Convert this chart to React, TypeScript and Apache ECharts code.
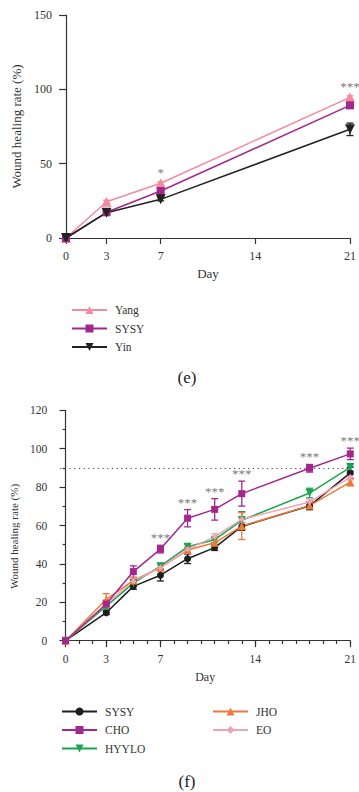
import React, { useEffect, useRef } from 'react';
import * as echarts from 'echarts';

const FONT = '"Liberation Serif", "Times New Roman", serif';
const TEXT = '#333333';
const AXIS = '#333333';

// ---------- Panel (e) ----------
const eDays = [0, 3, 7, 21];
const eTicks = [0, 3, 7, 14, 21];
const yangValues = [0, 24.4, 36.8, 94.6];
const yangErr = [0, 1, 1, 1];
const sysyEValues = [0, 17.3, 31.6, 89.2];
const sysyEErr = [0, 1, 1, 1.5];
const yinValues = [0, 17, 26, 73.1];
const yinErr = [0, 1, 1, 4.2];
const eSig = ['', '', '*', '***'];

// ---------- Panel (f) ----------
const fDays = [0, 3, 5, 7, 9, 11, 13, 18, 21];
const fMajorTicks = [0, 3, 7, 14, 21];
const fMinorTicks = [0, 1, 2, 3, 4, 5, 6, 7, 8, 9, 10, 11, 12, 13, 14, 15, 16, 17, 18, 19, 20, 21];
const sysyFValues = [0, 14.6, 28.3, 34.1, 42.7, 48.5, 59.5, 70.2, 87.4];
const sysyFErr = [0, 1, 1.5, 3, 2.5, 1.5, 2, 2, 3];
const choValues = [0, 19.1, 36, 47.7, 63.8, 68.4, 76.6, 89.8, 97.3];
const choErr = [0, 2, 3, 2, 4.5, 5.6, 6.5, 2, 3];
const hyyloValues = [0, 18, 30, 38.8, 48.9, 52.6, 62.7, 76.9, 90.3];
const hyyloErr = [0, 1.5, 1.5, 1.5, 1.5, 1.5, 4.5, 2.5, 2];
const jhoValues = [0, 21.5, 31.4, 38, 47.2, 51, 59.7, 70.4, 82.6];
const jhoErr = [0, 3, 1.5, 1.5, 1.5, 1.5, 7, 1.5, 2];
const eoValues = [0, 19, 31, 38, 47.6, 54.2, 63.2, 72.2, 85.2];
const eoErr = [0, 1.5, 1.5, 1.5, 1.5, 1.5, 1.5, 1.5, 1.5];
const fSig = ['', '', '', '***', '***', '***', '***', '***', '***'];
const referenceLine = 90;

type Group = { name: string; values: number[]; errs: number[]; color: string; symbol: string; size: number };

const INV_TRIANGLE = 'path://M0,0 L10,0 L5,9 Z';

const eGroups: Group[] = [
  { name: 'Yang', values: yangValues, errs: yangErr, color: '#f48aa1', symbol: 'triangle', size: 10 },
  { name: 'SYSY', values: sysyEValues, errs: sysyEErr, color: '#a3288d', symbol: 'rect', size: 8 },
  { name: 'Yin', values: yinValues, errs: yinErr, color: '#222222', symbol: INV_TRIANGLE, size: 10 },
];

const fGroups: Group[] = [
  { name: 'SYSY', values: sysyFValues, errs: sysyFErr, color: '#1e1e1e', symbol: 'circle', size: 7 },
  { name: 'CHO', values: choValues, errs: choErr, color: '#a3288d', symbol: 'rect', size: 7 },
  { name: 'HYYLO', values: hyyloValues, errs: hyyloErr, color: '#1ba552', symbol: INV_TRIANGLE, size: 8 },
  { name: 'JHO', values: jhoValues, errs: jhoErr, color: '#ec7a3a', symbol: 'triangle', size: 8 },
  { name: 'EO', values: eoValues, errs: eoErr, color: '#f3a1b4', symbol: 'diamond', size: 6 },
];

function lineSeries(g: Group, days: number[], extra: any = {}) {
  return {
    type: 'line',
    name: g.name,
    data: days.map((d, i) => [d, g.values[i]]),
    symbol: g.symbol,
    symbolSize: g.size,
    showSymbol: true,
    lineStyle: { color: g.color, width: 1.5 },
    itemStyle: { color: g.color, opacity: 1 },
    z: 3,
    ...extra,
  };
}

function errSeries(g: Group, days: number[]) {
  return {
    type: 'custom',
    name: g.name + ' error',
    silent: true,
    z: 2,
    encode: { x: 0, y: 1 },
    data: days.map((d, i) => [d, g.values[i], g.errs[i]]),
    renderItem: (_p: any, api: any) => {
      const x = api.value(0);
      const y = api.value(1);
      const e = api.value(2);
      const top = api.coord([x, y + e]);
      const bot = api.coord([x, y - e]);
      const style = { stroke: g.color, lineWidth: 1.3 };
      const cap = 3.5;
      return {
        type: 'group',
        children: [
          { type: 'line', shape: { x1: top[0], y1: top[1], x2: bot[0], y2: bot[1] }, style },
          { type: 'line', shape: { x1: top[0] - cap, y1: top[1], x2: top[0] + cap, y2: top[1] }, style },
          { type: 'line', shape: { x1: bot[0] - cap, y1: bot[1], x2: bot[0] + cap, y2: bot[1] }, style },
        ],
      };
    },
  };
}

function sigSeries(groups: Group[], days: number[], sig: string[], fontSize: number, distance: number) {
  const items: any[] = [];
  days.forEach((d, i) => {
    if (sig[i]) {
      items.push({ name: sig[i], value: [d, Math.max(...groups.map((g) => g.values[i] + g.errs[i]))] });
    }
  });
  return {
    type: 'scatter',
    name: 'sig',
    silent: true,
    symbolSize: 0,
    z: 5,
    itemStyle: { color: '#555555' },
    data: items,
    label: {
      show: true,
      position: 'top',
      distance,
      formatter: '{b}',
      color: '#555555',
      fontSize,
      fontFamily: FONT,
    },
  };
}

const axisLineStyle = { color: AXIS, width: 1.2 };
const labelStyle = (size: number) => ({ color: TEXT, fontSize: size, fontFamily: FONT });

function legendOf(names: string[], left: number, top: number) {
  return {
    data: names,
    left,
    top,
    orient: 'vertical',
    itemWidth: 35,
    itemHeight: 10,
    itemGap: 6.5,
    textStyle: { ...labelStyle(11.5), padding: [0, 0, 0, 3] },
    selectedMode: false,
  };
}

function optionE() {
  return {
    animation: false,
    grid: { left: 66, top: 15, width: 284, height: 223 },
    xAxis: {
      type: 'value',
      min: 0,
      max: 21,
      axisLine: { show: true, lineStyle: axisLineStyle },
      axisTick: { show: true, customValues: eTicks, length: 6, lineStyle: axisLineStyle },
      axisLabel: { customValues: eTicks, margin: 12, ...labelStyle(12) },
      splitLine: { show: false },
      name: 'Day',
      nameLocation: 'middle',
      nameGap: 29,
      nameTextStyle: labelStyle(13),
    },
    yAxis: {
      type: 'value',
      min: 0,
      max: 150,
      interval: 50,
      axisLine: { show: true, lineStyle: axisLineStyle },
      axisTick: { show: true, length: 7, lineStyle: axisLineStyle },
      axisLabel: { margin: 14, ...labelStyle(12) },
      splitLine: { show: false },
      name: 'Wound healing rate (%)',
      nameLocation: 'middle',
      nameGap: 39,
      nameTextStyle: labelStyle(13),
    },
    legend: legendOf(eGroups.map((g) => g.name), 66, 299),
    graphic: [
      {
        type: 'text',
        x: 187,
        y: 377,
        style: {
          text: '(e)',
          font: '17px ' + FONT,
          fill: '#222222',
          textAlign: 'center',
          textVerticalAlign: 'middle',
          align: 'center',
          verticalAlign: 'middle',
        },
      },
    ],
    series: [
      ...eGroups.map((g) => errSeries(g, eDays)),
      ...eGroups.map((g) => lineSeries(g, eDays)),
      sigSeries(eGroups, eDays, eSig, 13, 3),
    ],
  };
}

function optionF() {
  const series: any[] = [
    ...fGroups.map((g) => errSeries(g, fDays)),
    ...fGroups.map((g) =>
      g.name === 'CHO'
        ? lineSeries(g, fDays, {
            z: 4,
            markLine: {
              silent: true,
              symbol: 'none',
              label: { show: false },
              lineStyle: { type: [1.2, 3.5], color: '#444444', width: 1 },
              data: [{ yAxis: referenceLine }],
            },
          })
        : lineSeries(g, fDays)
    ),
    sigSeries(fGroups, fDays, fSig, 13, 1),
  ];
  return {
    animation: false,
    grid: { left: 55, top: 14.3, width: 303.3, height: 230.4 },
    xAxis: [
      {
        type: 'value',
        min: -0.4,
        max: 21,
        position: 'bottom',
        axisLine: { show: true, lineStyle: axisLineStyle },
        axisTick: { show: true, customValues: fMinorTicks, length: 3.3, lineStyle: axisLineStyle },
        axisLabel: { show: false },
        splitLine: { show: false },
      },
      {
        type: 'value',
        min: -0.4,
        max: 21,
        position: 'bottom',
        offset: 0,
        axisLine: { show: false },
        axisTick: { show: true, customValues: fMajorTicks, length: 6.5, lineStyle: axisLineStyle },
        axisLabel: { customValues: fMajorTicks, margin: 12, ...labelStyle(11.5) },
        splitLine: { show: false },
        name: 'Day',
        nameLocation: 'middle',
        nameGap: 30,
        nameTextStyle: labelStyle(12),
      },
    ],
    yAxis: {
      type: 'value',
      min: 0,
      max: 120,
      interval: 20,
      axisLine: { show: true, lineStyle: axisLineStyle },
      axisTick: { show: true, length: 6, lineStyle: axisLineStyle },
      minorTick: { show: true, splitNumber: 2, length: 3, lineStyle: axisLineStyle },
      axisLabel: { margin: 13, ...labelStyle(11.5) },
      splitLine: { show: false },
      minorSplitLine: { show: false },
      name: 'Wound healing rate (%)',
      nameLocation: 'middle',
      nameGap: 38,
      nameTextStyle: { ...labelStyle(11), padding: [0, 22, 0, 0] },
    },
    legend: [
      legendOf(['SYSY', 'CHO', 'HYYLO'], 56, 304.5),
      legendOf(['JHO', 'EO'], 207, 304.5),
    ],
    graphic: [
      {
        type: 'text',
        x: 187,
        y: 385.7,
        style: {
          text: '(f)',
          font: '17px ' + FONT,
          fill: '#222222',
          textAlign: 'center',
          textVerticalAlign: 'middle',
          align: 'center',
          verticalAlign: 'middle',
        },
      },
    ],
    series,
  };
}

export default function App() {
  const eRef = useRef<HTMLDivElement>(null);
  const fRef = useRef<HTMLDivElement>(null);

  useEffect(() => {
    document.body.style.margin = '0';
    const ce = echarts.init(eRef.current!, undefined, { renderer: 'svg' });
    const cf = echarts.init(fRef.current!, undefined, { renderer: 'svg' });
    ce.setOption(optionE() as any);
    cf.setOption(optionF() as any);
    return () => {
      ce.dispose();
      cf.dispose();
    };
  }, []);

  return (
    <div style={{ width: 359, height: 792, background: '#ffffff' }}>
      <div ref={eRef} style={{ width: 359, height: 396 }} />
      <div ref={fRef} style={{ width: 359, height: 396 }} />
    </div>
  );
}
